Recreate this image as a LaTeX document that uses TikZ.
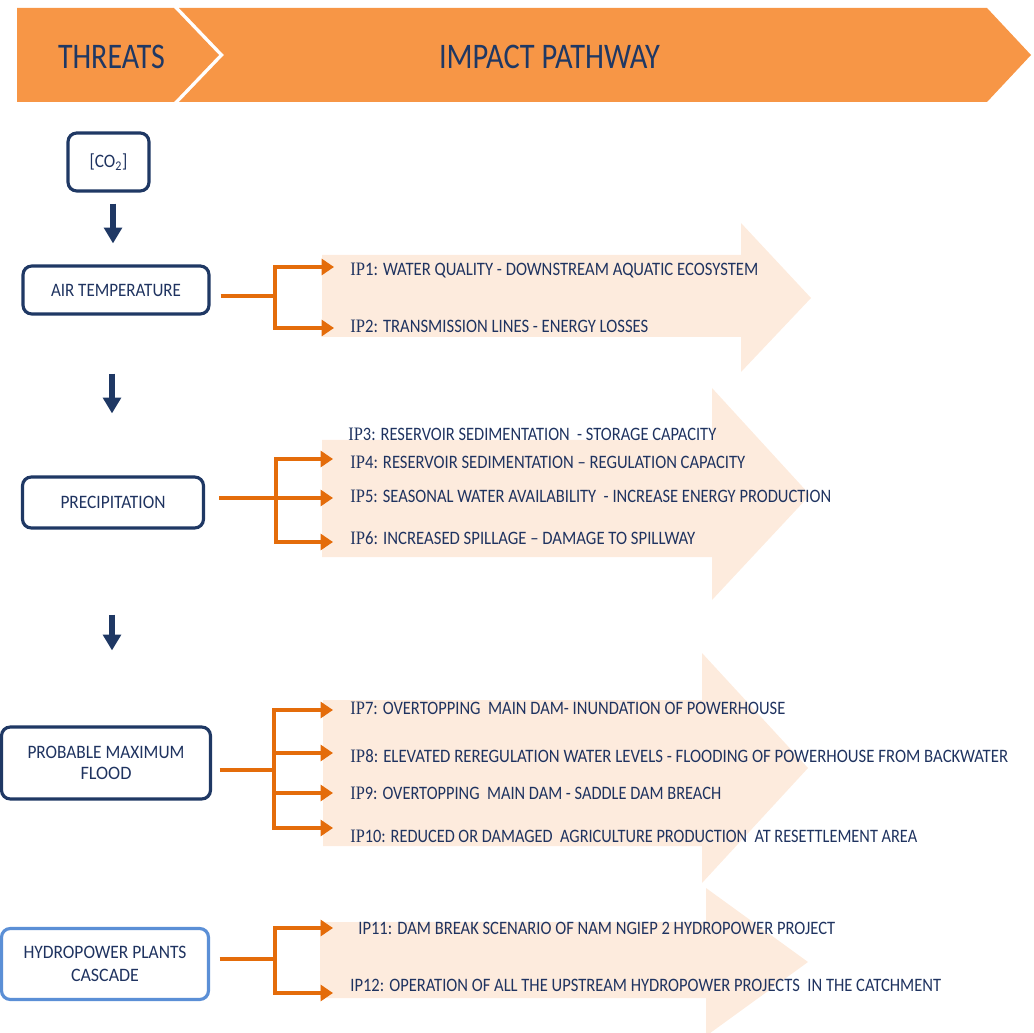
\documentclass[tikz,border=0pt]{standalone}
\usepackage{fontspec}
\setmainfont{Carlito}
\newfontfamily\ipserif{Liberation Serif}
\usepackage{graphicx}
\usetikzlibrary{arrows.meta,calc}
\definecolor{hdr}{HTML}{F79646}
\definecolor{navy}{HTML}{1F3864}
\definecolor{txt}{HTML}{1F3360}
\definecolor{orng}{HTML}{E46C0A}
\definecolor{peach}{HTML}{FDEBDD}
\definecolor{lblue}{HTML}{5B8FD6}
\newsavebox\fitbox
\newcommand\fitto[2]{\sbox\fitbox{#2}\pgfmathsetmacro\fitr{(#1)/(\the\wd\fitbox)}\scalebox{\fitr}[1]{\usebox\fitbox}}
\newcommand\IP{{\ipserif IP}}
\begin{document}
\begin{tikzpicture}[x=0.02cm,y=-0.02cm,
  box/.style={draw=navy, line width=1.8pt, rounded corners=5pt, fill=white, inner sep=0pt,
    font=\fontsize{10.8}{12}\selectfont, text=txt, align=center},
  iptext/.style={anchor=base west, inner sep=0pt, text=txt, font=\fontsize{10.8}{12}\selectfont},
  darr/.style={draw=navy, line width=3pt, -{Triangle[width=10pt,length=9pt]}},
  oline/.style={draw=orng, line width=2.8pt},
  oarr/.style={draw=orng, line width=2.8pt, line join=miter, -{Triangle[width=9pt,length=7pt]}},
  bigarrow/.style={fill=peach, draw=none},
  chev/.style={fill=hdr, draw=none},
  hdrtext/.style={text=navy, font=\fontsize{20.5}{22}\selectfont, inner sep=0pt}
]
\useasboundingbox (0,0) rectangle (1034,1033);

% header chevrons
\fill[chev] (17,8) -- (174,8) -- (219,55) -- (174,102) -- (17,102) -- cycle;
\fill[chev] (179,8) -- (987,8) -- (1031,55) -- (987,102) -- (179,102) -- (224,55) -- cycle;
\node[hdrtext] (threats) at (111.5,57) {\fitto{2.14cm}{THREATS}};
\node[hdrtext] (impact) at (549.5,57) {\fitto{4.42cm}{IMPACT PATHWAY}};

% big light arrows
\fill[bigarrow] (322,255) -- (741,255) -- (741,223) -- (811,298) -- (741,372) -- (741,337) -- (322,337) -- cycle;
\fill[bigarrow] (322,440) -- (712,440) -- (712,388) -- (810,495) -- (712,600) -- (712,557) -- (322,557) -- cycle;
\fill[bigarrow] (323,700) -- (702,700) -- (702,653) -- (808,768) -- (702,883) -- (702,846) -- (323,846) -- cycle;
\fill[bigarrow] (320,922) -- (706,922) -- (706,888) -- (808,962) -- (706,1036) -- (706,998) -- (320,998) -- cycle;

% threat boxes
\node[box, minimum width=1.62cm, minimum height=1.16cm] (co2) at (108.5,162) {\fitto{0.76cm}{[CO\textsubscript{2}]}};
\node[box, minimum width=3.72cm, minimum height=0.96cm] (air) at (116,290) {\fitto{2.6cm}{AIR TEMPERATURE}};
\node[box, minimum width=3.62cm, minimum height=1.02cm] (prec) at (113,502.5) {\fitto{2.1cm}{PRECIPITATION}};
\node[box, minimum width=4.18cm, minimum height=1.44cm] (pmf) at (106,763) {\fitto{3.14cm}{PROBABLE MAXIMUM}\\\fitto{1.02cm}{FLOOD}};
\node[box, draw=lblue, minimum width=4.14cm, minimum height=1.42cm, font=\fontsize{10.8}{13}\selectfont] (hpc) at (105,964) {\fitto{3.26cm}{HYDROPOWER PLANTS}\\\fitto{1.36cm}{CASCADE}};

% dark arrows
\coordinate (ca) at (113,0);
\coordinate (cb) at (112,0);
\draw[darr, shorten <=0.22cm, shorten >=0.42cm] (co2.south -| ca) -- (air.north -| ca);
\draw[darr, shorten <=1.16cm, shorten >=1.24cm] (air.south -| cb) -- (prec.north -| cb);
\draw[darr, shorten <=1.7cm, shorten >=1.5cm] (prec.south -| cb) -- (pmf.north -| cb);

% orange connectors
\coordinate (j1) at (275,296);
\coordinate (t1) at (334,267);
\coordinate (t2) at (334,328);
\draw[oline, shorten <=0.2cm] (air.east |- j1) -- (j1);
\draw[oarr] (j1) |- (t1);
\draw[oarr] (j1) |- (t2);

\coordinate (j2) at (276,498);
\coordinate (t4) at (333,459);
\coordinate (t5) at (333,498);
\coordinate (t6) at (333,542);
\draw[oline, shorten <=0.28cm] (prec.east |- j2) -- (j2);
\draw[oarr] (j2) |- (t4);
\draw[oarr] (j2) -- (t5);
\draw[oarr] (j2) |- (t6);

\coordinate (j3) at (274,770);
\coordinate (t7) at (333,710);
\coordinate (t8) at (333,753);
\coordinate (t9) at (333,793);
\coordinate (t10) at (333,828);
\draw[oline, shorten <=0.15cm] (pmf.east |- j3) -- (j3);
\draw[oarr] (j3) |- (t7);
\draw[oarr] (j3) |- (t8);
\draw[oarr] (j3) |- (t9);
\draw[oarr] (j3) |- (t10);

\coordinate (j4) at (275,959);
\coordinate (t11) at (333,928);
\coordinate (t12) at (333,993);
\draw[oline, shorten <=0.19cm] (hpc.east |- j4) -- (j4);
\draw[oarr] (j4) |- (t11);
\draw[oarr] (j4) |- (t12);

% impact pathway texts
\node[iptext] (ip1) at (350,276) {\fitto{8.16cm}{\IP1: WATER QUALITY - DOWNSTREAM AQUATIC ECOSYSTEM}};
\node[iptext] (ip2) at (350,332.5) {\fitto{5.96cm}{\IP2: TRANSMISSION LINES - ENERGY LOSSES}};
\node[iptext] (ip3) at (348,440) {\fitto{7.36cm}{\IP3: RESERVOIR SEDIMENTATION \ - STORAGE CAPACITY}};
\node[iptext] (ip4) at (350,468.5) {\fitto{7.9cm}{\IP4: RESERVOIR SEDIMENTATION – REGULATION CAPACITY}};
\node[iptext] (ip5) at (350,502) {\fitto{9.62cm}{\IP5: SEASONAL WATER AVAILABILITY \ - INCREASE ENERGY PRODUCTION}};
\node[iptext] (ip6) at (350,544.5) {\fitto{6.9cm}{\IP6: INCREASED SPILLAGE – DAMAGE TO SPILLWAY}};
\node[iptext] (ip7) at (350,714.5) {\fitto{8.7cm}{\IP7: OVERTOPPING \ MAIN DAM- INUNDATION OF POWERHOUSE}};
\node[iptext] (ip8) at (350,762.5) {\fitto{13.16cm}{\IP8: ELEVATED REREGULATION WATER LEVELS - FLOODING OF POWERHOUSE FROM BACKWATER}};
\node[iptext] (ip9) at (350,799) {\fitto{7.42cm}{\IP9: OVERTOPPING \ MAIN DAM - SADDLE DAM BREACH}};
\node[iptext] (ip10) at (350,842) {\fitto{11.34cm}{\IP10: REDUCED OR DAMAGED \ AGRICULTURE PRODUCTION \ AT RESETTLEMENT AREA}};
\node[iptext] (ip11) at (358,934.5) {\fitto{9.54cm}{IP11: DAM BREAK SCENARIO OF NAM NGIEP 2 HYDROPOWER PROJECT}};
\node[iptext] (ip12) at (350,991.5) {\fitto{11.82cm}{IP12: OPERATION OF ALL THE UPSTREAM HYDROPOWER PROJECTS \ IN THE CATCHMENT}};
\end{tikzpicture}
\end{document}
